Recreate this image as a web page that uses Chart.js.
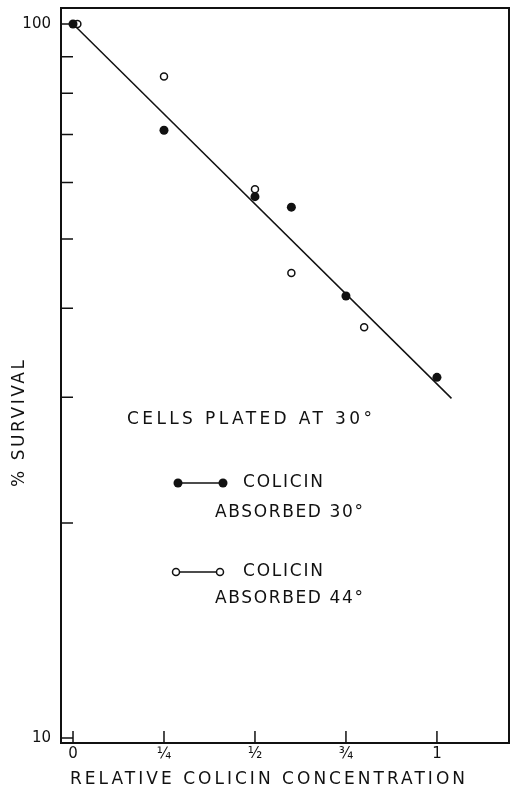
<!DOCTYPE html>
<html>
<head>
<meta charset="utf-8">
<script src="https://cdn.jsdelivr.net/npm/chart.js@4.4.0/dist/chart.umd.min.js"></script>
<style>
    html, body { margin: 0; padding: 0; background: #fff; }
    canvas { display: block; }
</style>
</head>
<body>
<canvas id="grafico" width="511" height="796"></canvas>
<script>
// Eixos
const xTicks = [0, 0.25, 0.5, 0.75, 1];
const xTickLabels = ['0', '¼', '½', '¾', '1'];
const yTicks = [10, 20, 30, 40, 50, 60, 70, 80, 90, 100];
const yTickLabels = { 100: '100', 10: '10' };

// Colicina absorvida a 30° (pontos cheios)
const filledX = [0, 0.25, 0.5, 0.6, 0.75, 1.0];
const filledY = [100, 71, 57.3, 55.4, 41.6, 32.0];

// Colicina absorvida a 44° (pontos vazios)
const openX = [0.012, 0.25, 0.5, 0.6, 0.8];
const openY = [100, 84.4, 58.7, 44.8, 37.6];

// Reta ajustada
const fitX = [0, 1.04];
const fitY = [100, 29.9];

// Textos
const xTitle = 'RELATIVE COLICIN CONCENTRATION';
const yTitle = '% SURVIVAL';
const legendHeader = 'CELLS PLATED AT 30°';
const legendEntries = [
    { filled: true, line1: 'COLICIN', line2: 'ABSORBED 30°' },
    { filled: false, line1: 'COLICIN', line2: 'ABSORBED 44°' }
];

const FONT = '"DejaVu Sans", sans-serif';
const INK = '#111';

const pares = (xs, ys) => xs.map((x, i) => ({ x: x, y: ys[i] }));

// Escreve um texto espaçado para ocupar de x0 até x1
function textoAjustado(ctx, texto, x0, x1, y, tamanho) {
    ctx.font = tamanho + 'px ' + FONT;
    ctx.letterSpacing = '0px';
    const w = ctx.measureText(texto).width;
    const esp = Math.max(0, (x1 - x0 - w) / (texto.length - 1));
    ctx.letterSpacing = esp + 'px';
    ctx.textAlign = 'left';
    ctx.textBaseline = 'middle';
    ctx.fillText(texto, x0, y);
    ctx.letterSpacing = '0px';
}

function marcador(ctx, x, y, cheio) {
    ctx.beginPath();
    if (cheio) {
        ctx.arc(x, y, 4.5, 0, Math.PI * 2);
        ctx.fillStyle = INK;
        ctx.fill();
    } else {
        ctx.arc(x, y, 3.5, 0, Math.PI * 2);
        ctx.fillStyle = '#fff';
        ctx.fill();
        ctx.lineWidth = 1.5;
        ctx.strokeStyle = INK;
        ctx.stroke();
    }
}

const moldura = {
    id: 'moldura',
    afterDraw(chart) {
        const ctx = chart.ctx;
        const a = chart.chartArea;
        const sx = chart.scales.x;
        const sy = chart.scales.y;
        ctx.save();

        // caixa
        ctx.strokeStyle = INK;
        ctx.lineWidth = 2;
        ctx.strokeRect(a.left, a.top, a.right - a.left, a.bottom - a.top);

        // marcas internas
        ctx.lineWidth = 1.5;
        ctx.beginPath();
        yTicks.forEach(v => {
            const py = sy.getPixelForValue(v);
            ctx.moveTo(a.left, py);
            ctx.lineTo(a.left + 12, py);
        });
        xTicks.forEach(v => {
            const px = sx.getPixelForValue(v);
            ctx.moveTo(px, a.bottom);
            ctx.lineTo(px, a.bottom - 12);
        });
        ctx.stroke();

        // títulos
        ctx.fillStyle = INK;
        textoAjustado(ctx, xTitle, 70, 465, 780, 17);
        ctx.save();
        ctx.translate(20, 487);
        ctx.rotate(-Math.PI / 2);
        textoAjustado(ctx, yTitle, 0, 127, 0, 17);
        ctx.restore();

        // legenda
        ctx.fillStyle = INK;
        textoAjustado(ctx, legendHeader, 127, 372, 420, 17);
        const linhas = [[483, 513, 178, 223], [572, 599, 176, 220]];
        legendEntries.forEach((e, i) => {
            const [y1, y2, m0, m1] = linhas[i];
            ctx.strokeStyle = INK;
            ctx.lineWidth = 1.5;
            ctx.beginPath();
            ctx.moveTo(m0, y1);
            ctx.lineTo(m1, y1);
            ctx.stroke();
            marcador(ctx, m0, y1, e.filled);
            marcador(ctx, m1, y1, e.filled);
            ctx.fillStyle = INK;
            textoAjustado(ctx, e.line1, 243, 323, y1, 17);
            textoAjustado(ctx, e.line2, 215, 363, y2, 17);
        });

        ctx.restore();
    }
};

const fonteTicks = { family: FONT, size: 15 };

new Chart(document.getElementById('grafico').getContext('2d'), {
    type: 'scatter',
    data: {
        datasets: [
            {
                label: 'Colicin absorbed 30°',
                data: pares(filledX, filledY),
                backgroundColor: INK,
                borderColor: INK,
                borderWidth: 0,
                pointRadius: 4.5
            },
            {
                label: 'Colicin absorbed 44°',
                data: pares(openX, openY),
                backgroundColor: '#fff',
                borderColor: INK,
                borderWidth: 1.5,
                pointRadius: 3.5
            },
            {
                label: 'fit',
                data: pares(fitX, fitY),
                showLine: true,
                borderColor: INK,
                borderWidth: 1.5,
                pointRadius: 0
            }
        ]
    },
    options: {
        responsive: false,
        animation: false,
        layout: { autoPadding: false, padding: { top: 8, right: 2, left: 0, bottom: 0 } },
        plugins: {
            legend: { display: false },
            tooltip: { enabled: false }
        },
        scales: {
            x: {
                type: 'linear',
                min: -0.033,
                max: 1.198,
                afterBuildTicks: s => { s.ticks = xTicks.map(v => ({ value: v })); },
                afterFit: s => {
                    s.height = 53;
                    s.paddingLeft = 0;
                    s.paddingRight = 0;
                },
                grid: { display: false, drawTicks: false },
                border: { display: false },
                ticks: {
                    autoSkip: false,
                    maxRotation: 0,
                    padding: 2,
                    color: INK,
                    font: fonteTicks,
                    callback: (v, i) => xTickLabels[i]
                }
            },
            y: {
                type: 'logarithmic',
                min: 9.84,
                max: 105.3,
                afterBuildTicks: s => { s.ticks = yTicks.map(v => ({ value: v })); },
                afterFit: s => {
                    s.width = 61;
                    s.paddingTop = 0;
                    s.paddingBottom = 0;
                },
                grid: { display: false, drawTicks: false },
                border: { display: false },
                ticks: {
                    autoSkip: false,
                    padding: 10,
                    color: INK,
                    font: fonteTicks,
                    callback: v => yTickLabels[v] || ''
                }
            }
        }
    },
    plugins: [moldura]
});
</script>
</body>
</html>
